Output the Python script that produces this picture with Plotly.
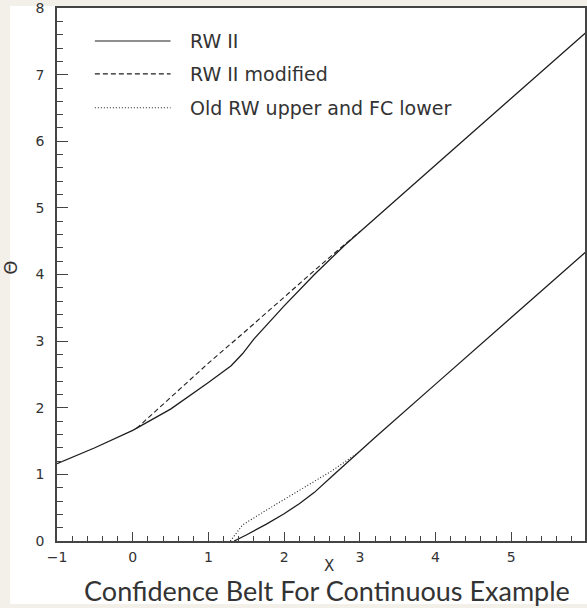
import plotly.graph_objects as go

# ---- data ----
x_rw2_upper = [-1.0, -0.5, 0.0, 0.5, 1.0, 1.3, 1.45, 1.6, 2.0, 2.4, 2.8, 3.2, 4.0, 5.0, 6.0]
y_rw2_upper = [1.16, 1.40, 1.66, 1.98, 2.38, 2.63, 2.81, 3.03, 3.53, 4.00, 4.44, 4.845, 5.645, 6.645, 7.645]

x_rw2_lower = [1.34, 1.5, 1.76, 2.0, 2.2, 2.4, 2.64, 2.9, 3.2, 4.0, 5.0, 6.0]
y_rw2_lower = [0.0, 0.09, 0.25, 0.41, 0.56, 0.73, 0.98, 1.25, 1.555, 2.355, 3.355, 4.355]

x_mod_upper = [0.05, 0.5, 1.0, 1.5, 2.0, 2.5, 3.0]
y_mod_upper = [1.69, 2.16, 2.67, 3.16, 3.66, 4.16, 4.645]

x_old_lower = [1.29, 1.45, 1.76, 2.2, 2.64, 2.95]
y_old_lower = [0.0, 0.24, 0.46, 0.76, 1.06, 1.305]

legend_labels = ["RW II", "RW II modified", "Old RW upper and FC lower"]
legend_dashes = ["solid", "5px,3px", "1px,2px"]

x_ticks = [-1, 0, 1, 2, 3, 4, 5, 6]
y_ticks = [0, 1, 2, 3, 4, 5, 6, 7, 8]

# ---- figure ----
W, H = 587, 608
ML, MR, MT, MB = 57, 0, 7, 67
PW, PH = W - ML - MR, H - MT - MB
XPX = 76.0  # px per x unit
x_range = [-1, -1 + PW / XPX]

LINE_C = "#1e1e1e"
FONT = "DejaVu Sans"
TITLE_FONT = "Lato"
TXT_C = "#333333"

fig = go.Figure()
fig.add_trace(go.Scatter(x=x_rw2_upper, y=y_rw2_upper, mode="lines",
                         line=dict(color=LINE_C, width=1.3), name=legend_labels[0], showlegend=False))
fig.add_trace(go.Scatter(x=x_rw2_lower, y=y_rw2_lower, mode="lines",
                         line=dict(color=LINE_C, width=1.3), name=legend_labels[0], showlegend=False))
fig.add_trace(go.Scatter(x=x_mod_upper, y=y_mod_upper, mode="lines",
                         line=dict(color=LINE_C, width=1.1, dash=legend_dashes[1]),
                         name=legend_labels[1], showlegend=False))
fig.add_trace(go.Scatter(x=x_old_lower, y=y_old_lower, mode="lines",
                         line=dict(color=LINE_C, width=1.1, dash=legend_dashes[2]),
                         name=legend_labels[2], showlegend=False))

def px2paper_x(px):
    return (px - ML) / PW

def px2paper_y(py):
    return (MT + PH - py) / PH

shapes = [
    # white page area over beige background
    dict(type="rect", xref="paper", yref="paper", layer="below",
         x0=px2paper_x(10), x1=px2paper_x(600), y0=px2paper_y(604), y1=px2paper_y(5),
         fillcolor="white", line=dict(width=0)),
]
annotations = []
rows_py = [40, 73, 107]
for lab, dash, py in zip(legend_labels, legend_dashes, rows_py):
    shapes.append(dict(type="line", xref="paper", yref="paper",
                       x0=px2paper_x(95), x1=px2paper_x(171),
                       y0=px2paper_y(py), y1=px2paper_y(py),
                       line=dict(color=LINE_C, width=1.1, dash=dash)))
    annotations.append(dict(xref="paper", yref="paper", x=px2paper_x(188), y=px2paper_y(py),
                            xanchor="left", yanchor="middle", showarrow=False, text=lab,
                            font=dict(family=FONT, size=19, color=TXT_C)))

# y-axis title (Theta, rotated)
annotations.append(dict(xref="paper", yref="paper", x=px2paper_x(10), y=px2paper_y(267),
                        xanchor="center", yanchor="middle", showarrow=False, text="Θ",
                        textangle=-90, font=dict(family="DejaVu Sans", size=18, color=TXT_C)))
# x-axis title
annotations.append(dict(xref="paper", yref="paper", x=px2paper_x(330), y=px2paper_y(566),
                        xanchor="center", yanchor="middle", showarrow=False, text="X",
                        font=dict(family=FONT, size=15, color=TXT_C)))

fig.update_layout(
    width=W, height=H,
    margin=dict(l=ML, r=MR, t=MT, b=MB, pad=0),
    paper_bgcolor="#f3f0ea",
    plot_bgcolor="white",
    showlegend=False,
    shapes=shapes,
    annotations=annotations,
    title=dict(text="Confidence Belt For Continuous Example",
               xref="container", yref="container", x=327 / W, y=1 - 592 / H,
               xanchor="center", yanchor="middle",
               font=dict(family=TITLE_FONT, size=27, color=TXT_C)),
    font=dict(family=FONT, color=TXT_C),
)
fig.update_xaxes(range=x_range, tickvals=x_ticks, ticks="inside", ticklen=9, tickwidth=1.2,
                 tickcolor="#444", showline=True, linecolor="#444", linewidth=1.5, mirror=True,
                 showgrid=False, zeroline=False, ticklabelstandoff=2, ticklabeloverflow="allow",
                 tickfont=dict(family=FONT, size=14, color=TXT_C),
                 minor=dict(dtick=0.2, tick0=-1, ticks="inside", ticklen=5, tickwidth=1.1,
                            tickcolor="#444", showgrid=False))
fig.update_yaxes(range=[0, 8.001], tickvals=y_ticks, ticks="inside", ticklen=11, tickwidth=1.2,
                 tickcolor="#444", showline=True, linecolor="#444", linewidth=1.5, mirror=True,
                 showgrid=False, zeroline=False, ticklabelstandoff=8, ticklabeloverflow="allow",
                 tickfont=dict(family=FONT, size=14, color=TXT_C),
                 minor=dict(dtick=0.2, tick0=0, ticks="inside", ticklen=6, tickwidth=1.1,
                            tickcolor="#444", showgrid=False))

fig.write_html("out.html", config={"displayModeBar": False},
               post_script="document.body.style.margin='0';document.body.style.overflow='hidden';")
